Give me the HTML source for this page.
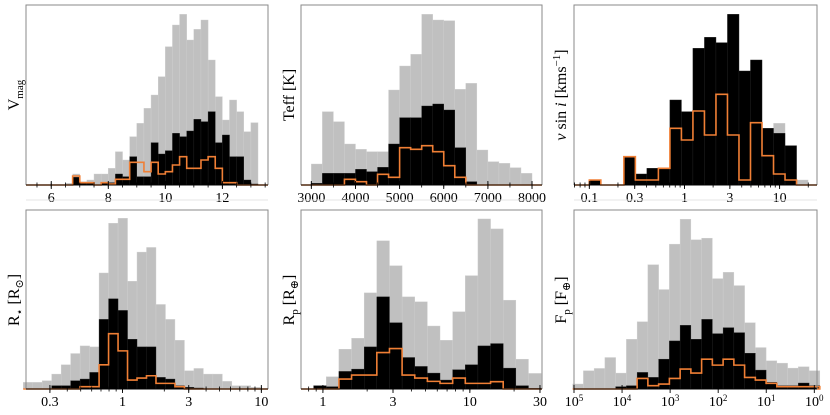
<!DOCTYPE html>
<html><head><meta charset="utf-8"><style>
html,body{margin:0;padding:0;background:#fff;}
svg{display:block;font-family:"Liberation Serif","DejaVu Serif",serif;}
</style></head><body>
<svg id="chart" width="830" height="415" viewBox="0 0 830 415" xmlns="http://www.w3.org/2000/svg"></svg>
<script>
// ---- data (bin counts, arbitrary units) ----
const vmagGray=[5,33,10,15,33,33,50,100,75,145,185,230,270,325,415,480,512,435,467,495,375,265,195,255,220,160,187];
const vmagBlack=[0,23,7,7,0,7,7,33,25,85,25,25,127,93,103,155,145,162,197,190,220,127,150,85,85,15,3];
const vmagOrange=[0,27,7,7,0,7,3,17,17,68,68,40,68,33,40,60,85,50,50,75,85,50,7,7,0,0,0];
const teffGray=[63,220,190,123,107,100,100,285,357,392,512,495,493,287,305,105,70,65,52,35];
const teffBlack=[5,35,35,35,47,40,53,123,202,202,237,243,225,112,10,0,0,0,0,0];
const teffOrange=[0,0,0,17,10,0,32,23,112,107,118,100,58,23,0,0,0,0,0,0];
const vsiniGray=[15,0,0,83,33,50,50,255,220,410,443,427,512,342,375,170,185,118,15];
const vsiniBlack=[15,0,0,83,33,50,50,255,220,410,443,427,512,342,375,170,155,118,0];
const vsiniOrange=[15,0,0,85,15,15,50,170,135,222,150,272,150,15,187,88,33,15,0];
const rstarGray=[20,20,25,45,73,107,130,127,350,500,515,325,413,427,255,210,147,55,62,45,45,23,10,10,5];
const rstarBlack=[0,0,0,10,10,25,30,50,210,272,237,150,127,127,35,30,10,5,3,0,0,0,0,0,0];
const rstarOrange=[0,0,0,0,0,0,7,7,73,167,115,27,33,40,17,17,7,0,0,0,0,0,0,0,0];
const rpGray=[10,37,120,153,290,447,372,278,263,190,147,233,342,513,483,268,90,47];
const rpBlack=[10,7,53,60,127,278,200,95,68,48,27,58,73,130,137,63,10,2];
const rpOrange=[0,0,30,42,42,110,122,42,33,23,17,33,17,17,22,0,0,0];
const fpGray=[15,55,62,95,48,150,203,375,300,437,512,450,455,333,352,312,200,125,85,78,63,67,55];
const fpBlack=[0,0,0,0,7,10,50,35,90,145,192,150,210,167,185,170,108,57,20,10,10,18,10];
const fpOrange=[0,0,0,0,0,0,32,10,15,32,60,48,90,72,90,72,35,27,17,7,7,7,7];
// tick values / labels
const vmagTicks=[6,8,10,12];
const teffTicks=[3000,4000,5000,6000,7000,8000];
const vsiniTicks=[0.1,0.3,1,3,10];
const rstarTicks=[0.3,1,3,10];
const rpTicks=[1,3,10,30];
const fpTicks=[5,4,3,2,1,0];

const NS="http://www.w3.org/2000/svg";
const svg=document.getElementById('chart');
function mk(tag,attrs,parent){const e=document.createElementNS(NS,tag);for(const k in attrs)e.setAttribute(k,attrs[k]);(parent||svg).appendChild(e);return e;}
const L=Math.log10;

function panel(c){
  const g=mk('g',{});
  
  
  const sx=v=>c.x0+(v-c.d0)/(c.d1-c.d0)*(c.x1-c.x0);
  const sy=v=>c.yb-v/540*(c.yb-c.yt);
  const n=c.gray.length;
  const edge=i=>c.bs+i*c.bw;
  for(let i=0;i<n;i++){ if(c.gray[i]<=0)continue;
    const a=sx(edge(i)),b=sx(edge(i+1));
    const r=mk('rect',{x:Math.min(a,b),y:sy(c.gray[i]),width:Math.abs(b-a),height:c.yb-sy(c.gray[i]),fill:'#c0c0c0',stroke:'#cfcfcf','stroke-width':0.4},g);
    
    
  }
  for(let i=0;i<n;i++){ if(c.black[i]<=0)continue;
    const a=sx(edge(i)),b=sx(edge(i+1));
    const r=mk('rect',{x:Math.min(a,b),y:sy(c.black[i]),width:Math.abs(b-a),height:c.yb-sy(c.black[i]),fill:'#000',stroke:'#222','stroke-width':0.4},g);
    
    
  }
  let d='M'+c.x0+','+c.yb+' L'+sx(edge(0))+','+c.yb;
  for(let i=0;i<n;i++){const y=sy(c.orange[i]);d+=' L'+sx(edge(i))+','+y+' L'+sx(edge(i+1))+','+y;}
  d+=' L'+sx(edge(n))+','+c.yb+' L'+c.x1+','+c.yb;
  const p=mk('path',{d:d,fill:'none',stroke:'#f07f35','stroke-width':1.6},g);
  
  
  mk('path',{d:`M${c.x0},${c.yb} L${c.x0},${c.yt} L${c.x1},${c.yt} L${c.x1},${c.yb}`,fill:'none',stroke:'#8a8a8a','stroke-width':1},g);
  const ax=mk('line',{x1:c.x0,y1:c.yb,x2:c.x1,y2:c.yb,stroke:'#000','stroke-width':1},g);
  
  
  (c.minor||[]).forEach(v=>{const x=sx(v);if(x<c.x0||x>c.x1)return;mk('line',{x1:x,x2:x,y1:c.yb-2.5,y2:c.yb+2.5,stroke:'#000','stroke-width':0.8},g);});
  c.ticks.forEach((t,i)=>{const x=sx(c.tv(t));
    mk('line',{x1:x,x2:x,y1:c.yb-4,y2:c.yb+4,stroke:'#000','stroke-width':0.9},g);
    const tx=mk('text',{x:x,y:c.yb+17,'text-anchor':'middle','font-size':14},g);
    
    
    if(c.pow){tx.textContent='10';const s=mk('tspan',{'font-size':9,dy:-5},tx);s.textContent=String(t);}
    else tx.textContent=String(t);
  });
  if(c.underline) mk('line',{x1:c.x0,x2:c.x1,y1:200,y2:200,stroke:'#e4e4e4','stroke-width':1},g);
  const yl=mk('text',{transform:`translate(${c.lx},${c.ly}) rotate(-90)`,'text-anchor':'middle','font-size':16},g);
  
  
  c.label.forEach(seg=>{const ts=mk('tspan',{},yl);ts.textContent=seg[0];
    if(seg[1]==='sub'){ts.setAttribute('font-size',11);ts.setAttribute('dy',4);}
    if(seg[1]==='sup'){ts.setAttribute('font-size',11);ts.setAttribute('dy',-6);}
    if(seg[1]==='back'){ts.setAttribute('dy',-4);}
    if(seg[1]==='backup'){ts.setAttribute('dy',6);}
    if(seg[2])ts.setAttribute('font-style','italic');
  });
}
function logMinor(a,b){const r=[];for(let e=a;e<=b;e++)for(let m=1;m<10;m++)r.push(L(m*Math.pow(10,e)));return r;}
const lin=v=>v;
const minorV=[];for(let v=5.5;v<=13.5;v+=0.5)minorV.push(v);
const minorT=[];for(let v=3000;v<=8000;v+=500)minorT.push(v);

panel({name:'vmag',x0:26,x1:268,yt:5,yb:185,d0:5.115,d1:13.6,bs:6.5,bw:0.25,gray:vmagGray,black:vmagBlack,orange:vmagOrange,ticks:vmagTicks,tv:lin,minor:minorV,lx:19,ly:95,underline:true,label:[['V'],['mag','sub']]});
panel({name:'teff',x0:301,x1:542,yt:5,yb:185,d0:2766,d1:8226,bs:3000,bw:250,gray:teffGray,black:teffBlack,orange:teffOrange,ticks:teffTicks,tv:lin,minor:minorT,lx:294,ly:95,underline:true,label:[['Teff [K]']]});
panel({name:'vsini',x0:574,x1:817,yt:5,yb:185,d0:-1.161,d1:1.393,bs:-1,bw:0.121,gray:vsiniGray,black:vsiniBlack,orange:vsiniOrange,ticks:vsiniTicks,tv:L,minor:logMinor(-2,1),lx:566,ly:95,underline:true,label:[['v',null,true],[' sin '],['i',null,true],[' [kms'],['−1','sup'],[']','backup']]});
panel({name:'rstar',x0:26,x1:268,yt:210,yb:389,d0:-0.695,d1:1.048,bs:-0.715,bw:0.0683,gray:rstarGray,black:rstarBlack,orange:rstarOrange,ticks:rstarTicks,tv:L,minor:logMinor(-1,1),lx:19,ly:300,label:[['R'],['⋆','sub'],[' [R','back'],['⊙','sub'],[']','back']]});
panel({name:'rp',x0:301,x1:542,yt:210,yb:389,d0:-0.149,d1:1.491,bs:-0.063,bw:0.086,gray:rpGray,black:rpBlack,orange:rpOrange,ticks:rpTicks,tv:L,minor:logMinor(-1,1),lx:294,ly:300,label:[['R'],['p','sub'],[' [R','back'],['⊕','sub'],[']','back']]});
panel({name:'fp',x0:574,x1:817,yt:210,yb:389,d0:5,d1:-0.056,bs:5.028,bw:-0.2236,gray:fpGray,black:fpBlack,orange:fpOrange,ticks:fpTicks,tv:lin,pow:true,minor:[],lx:566,ly:300,label:[['F'],['p','sub'],[' [F','back'],['⊕','sub'],[']','back']]});
</script>
</body></html>
